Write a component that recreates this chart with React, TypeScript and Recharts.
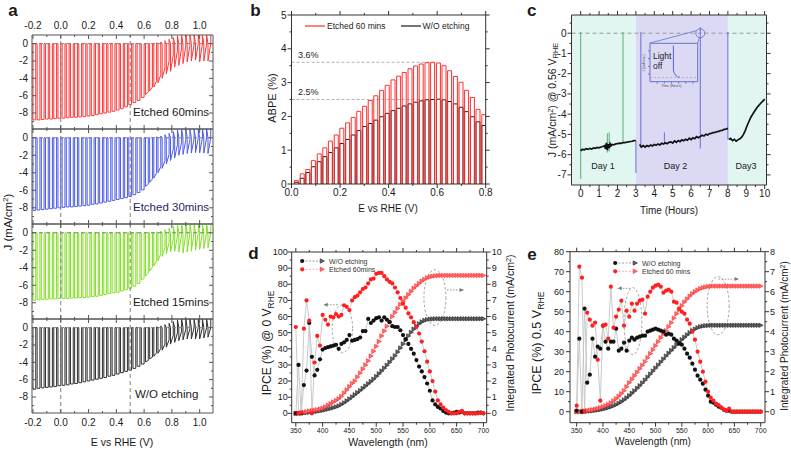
import React from 'react';
import { ComposedChart, Line, XAxis, YAxis, ReferenceLine, ReferenceArea, ReferenceDot, Legend } from 'recharts';

const W = 791;
const H = 451;
const FONT = '"Liberation Sans", Arial, Helvetica, sans-serif';

// ---------- a: chopped-light LSV, J (mA/cm2) vs E (V RHE) ----------
// potential where the light is switched on, one per chop
const chopE = [-0.2, -0.17, -0.14, -0.11, -0.08, -0.05, -0.02, 0.01, 0.04, 0.07, 0.1, 0.13, 0.16, 0.19, 0.22, 0.25, 0.28, 0.31, 0.34, 0.37, 0.4, 0.43, 0.46, 0.49, 0.52, 0.55, 0.58, 0.61, 0.64, 0.67, 0.7, 0.73, 0.76, 0.79, 0.82, 0.85, 0.88, 0.91, 0.94, 0.97, 1.0, 1.03, 1.06];
// photocurrent right after light-on (tip) and just before light-off (end)
const tip60 = [-8.8, -8.8, -8.75, -8.7, -8.7, -8.65, -8.6, -8.6, -8.55, -8.5, -8.5, -8.45, -8.4, -8.35, -8.3, -8.2, -8.1, -8.0, -7.9, -7.8, -7.65, -7.5, -7.3, -7.05, -6.8, -6.55, -6.2, -5.85, -5.45, -5.0, -4.5, -4.0, -3.5, -3.2, -2.7, -2.5, -2.3, -2.1, -2.0, -1.9, -2.1, -2.0, -2.0];
const end60 = [-8.8, -8.8, -8.75, -8.7, -8.7, -8.65, -8.6, -8.6, -8.55, -8.5, -8.5, -8.45, -8.4, -8.35, -8.3, -8.2, -8.1, -8.0, -7.9, -7.8, -7.65, -7.5, -7.3, -7.05, -6.8, -6.55, -6.2, -5.6, -5.0, -4.3, -3.6, -2.8, -2.0, -1.3, -0.8, -0.5, -0.3, -0.2, -0.1, 0, 0, 0, 0];
const tip30 = [-8.3, -8.25, -8.2, -8.15, -8.1, -8.05, -8.0, -7.95, -7.9, -7.9, -7.85, -7.8, -7.75, -7.7, -7.6, -7.55, -7.45, -7.35, -7.25, -7.15, -7.05, -6.95, -6.85, -6.7, -6.5, -6.25, -5.95, -5.55, -5.1, -4.6, -4.0, -3.5, -3.0, -2.6, -2.3, -2.0, -1.9, -1.8, -1.75, -1.7, -1.7, -1.75, -1.8];
const end30 = [-8.3, -8.25, -8.2, -8.15, -8.1, -8.05, -8.0, -7.95, -7.9, -7.9, -7.85, -7.8, -7.75, -7.7, -7.6, -7.55, -7.45, -7.35, -7.25, -7.15, -7.05, -6.95, -6.85, -6.7, -6.5, -6.25, -5.95, -5.3, -4.7, -4.0, -3.3, -2.6, -1.9, -1.3, -0.8, -0.5, -0.3, -0.2, -0.1, 0, 0, 0, 0];
const tip15 = [-7.7, -7.65, -7.6, -7.6, -7.55, -7.55, -7.5, -7.5, -7.5, -7.45, -7.45, -7.4, -7.4, -7.35, -7.3, -7.25, -7.15, -7.05, -6.95, -6.85, -6.8, -6.65, -6.5, -6.35, -6.1, -5.8, -5.4, -4.95, -4.4, -3.8, -3.2, -2.7, -2.4, -2.2, -2.1, -2.2, -2.3, -2.2, -2.1, -2.0, -1.9, -1.8, -1.7];
const end15 = [-7.7, -7.65, -7.6, -7.6, -7.55, -7.55, -7.5, -7.5, -7.5, -7.45, -7.45, -7.4, -7.4, -7.35, -7.3, -7.25, -7.15, -7.05, -6.95, -6.85, -6.8, -6.65, -6.5, -6.35, -6.1, -5.8, -5.2, -4.6, -3.9, -3.2, -2.4, -1.7, -1.1, -0.7, -0.4, -0.2, -0.1, 0, 0, 0, 0, 0, 0];
const tipWO = [-7.1, -7.0, -6.95, -6.9, -6.85, -6.8, -6.7, -6.65, -6.6, -6.5, -6.45, -6.35, -6.25, -6.15, -6.05, -5.95, -5.85, -5.75, -5.6, -5.5, -5.35, -5.2, -5.05, -4.9, -4.7, -4.45, -4.2, -3.95, -3.6, -3.3, -2.95, -2.6, -2.25, -1.9, -1.7, -1.5, -1.4, -1.3, -1.3, -1.3, -1.3, -1.2, -1.1];
const endWO = [-7.1, -7.0, -6.95, -6.9, -6.85, -6.8, -6.7, -6.65, -6.6, -6.5, -6.45, -6.35, -6.25, -6.15, -6.05, -5.95, -5.85, -5.75, -5.6, -5.5, -5.35, -5.2, -5.05, -4.9, -4.7, -4.45, -4.2, -3.8, -3.4, -2.9, -2.4, -1.9, -1.4, -0.9, -0.6, -0.4, -0.2, -0.1, 0, 0, 0, 0, 0];
// anodic overshoot when the light goes off
const offSpike = [0, 0, 0, 0, 0, 0, 0, 0, 0, 0, 0, 0, 0, 0, 0, 0, 0, 0, 0, 0, 0, 0, 0, 0, 0, 0, 0, 0, 0, 0.1, 0.2, 0.35, 0.5, 0.7, 0.9, 1, 1, 1, 1, 1, 1, 1, 1];
const aLabels = ['Etched 60mins', 'Etched 30mins', 'Etched 15mins', 'W/O etching'];
const aGuides = [0, 0.5];
const aXTicks = [-0.2, -0.1, 0, 0.1, 0.2, 0.3, 0.4, 0.5, 0.6, 0.7, 0.8, 0.9, 1.0];
const aXMajor = [-0.2, 0, 0.2, 0.4, 0.6, 0.8, 1.0];
const aYTicks = [0, -1, -2, -3, -4, -5, -6, -7, -8, -9];
const aYMajor = [0, -2, -4, -6, -8];
const CHOP_ON = 0.02;

// ---------- b: ABPE (%) under chopped light ----------
const bStart = [0.012, 0.036, 0.059, 0.082, 0.106, 0.129, 0.152, 0.176, 0.199, 0.223, 0.246, 0.269, 0.293, 0.316, 0.339, 0.363, 0.386, 0.41, 0.433, 0.456, 0.48, 0.503, 0.526, 0.55, 0.573, 0.597, 0.62, 0.643, 0.667, 0.69, 0.713, 0.737, 0.76, 0.784];
const abpeEtched = [0.1, 0.3, 0.43, 0.69, 0.89, 1.07, 1.27, 1.45, 1.65, 1.81, 1.97, 2.15, 2.3, 2.47, 2.61, 2.77, 2.92, 3.08, 3.19, 3.3, 3.41, 3.49, 3.55, 3.59, 3.6, 3.58, 3.5, 3.35, 3.18, 3.01, 2.77, 2.56, 2.21, 2.05];
const abpeWO = [0.05, 0.17, 0.34, 0.51, 0.66, 0.81, 0.93, 1.07, 1.2, 1.32, 1.45, 1.58, 1.7, 1.79, 1.89, 1.99, 2.09, 2.17, 2.24, 2.31, 2.37, 2.42, 2.46, 2.49, 2.5, 2.51, 2.49, 2.44, 2.37, 2.27, 2.14, 1.99, 1.84, 1.73];
const bLegendOrder = ['Etched 60 mins', 'W/O etching'];
const bMarks = [3.6, 2.5];
const bMarkEnd = [0.585, 0.6];
const bXTicks = [0, 0.1, 0.2, 0.3, 0.4, 0.5, 0.6, 0.7, 0.8];
const bXMajor = [0, 0.2, 0.4, 0.6, 0.8];
const bYTicks = [0, 0.5, 1, 1.5, 2, 2.5, 3, 3.5, 4, 4.5, 5];
const bYMajor = [0, 1, 2, 3, 4, 5];
const PULSE_ON = 0.0165;

// ---------- c: stability, J @ 0.56 V RHE vs time (h) ----------
const cTime = [0, 0.05, 0.1, 0.2, 0.3, 0.4, 0.5, 0.6, 0.7, 0.8, 0.9, 1.0, 1.1, 1.2, 1.3, 1.35, 1.4, 1.45, 1.5, 1.55, 1.6, 1.65, 1.7, 1.8, 1.9, 2.0, 2.1, 2.2, 2.3, 2.4, 2.5, 2.6, 2.7, 2.8, 2.9, 3.0,
  3.1,
  3.2, 3.3, 3.4, 3.5, 3.6, 3.7, 3.8, 3.9, 4.0, 4.1, 4.2, 4.3, 4.4, 4.5, 4.6, 4.7, 4.8, 4.9, 5.0, 5.1, 5.2, 5.3, 5.4, 5.5, 5.6, 5.7, 5.8, 5.9, 6.0, 6.1, 6.2, 6.3, 6.4, 6.5, 6.6, 6.7, 6.8, 6.9, 7.0, 7.1, 7.2, 7.3, 7.4, 7.5, 7.6, 7.7, 7.8, 7.9, 8.0,
  8.02,
  8.05, 8.15, 8.25, 8.35, 8.45, 8.55, 8.65, 8.75, 8.85, 8.95, 9.05, 9.15, 9.25, 9.35, 9.45, 9.55, 9.65, 9.75, 9.85, 9.95, 10.0];
const cJ = [-5.82, -5.76, -5.74, -5.76, -5.71, -5.74, -5.69, -5.72, -5.67, -5.69, -5.64, -5.66, -5.62, -5.6, -5.56, -5.72, -5.42, -5.78, -5.48, -5.68, -5.46, -5.56, -5.5, -5.52, -5.47, -5.46, -5.43, -5.44, -5.4, -5.41, -5.38, -5.37, -5.35, -5.34, -5.31, -5.3,
  null,
  -5.5, -5.62, -5.55, -5.63, -5.55, -5.6, -5.52, -5.57, -5.5, -5.54, -5.47, -5.52, -5.44, -5.48, -5.41, -5.46, -5.39, -5.37, -5.43, -5.32, -5.39, -5.3, -5.36, -5.27, -5.31, -5.24, -5.29, -5.19, -5.26, -5.17, -5.21, -5.11, -5.16, -5.1, -5.04, -5.08, -4.99, -5.03, -4.96, -4.95, -4.91, -4.9, -4.87, -4.85, -4.81, -4.8, -4.75, -4.74, -4.7,
  null,
  -5.25, -5.2, -5.31, -5.24, -5.33, -5.27, -5.22, -5.14, -5.0, -4.8, -4.56, -4.35, -4.15, -4.0, -3.86, -3.72, -3.6, -3.5, -3.4, -3.31, -3.25];
// light on/off transients
const spikeT = [0, 1.45, 1.55, 2.3, 3.0, 3.27, 4.55, 6.5, 8.0];
const spikeTop = [0.05, -4.95, -4.9, 0.05, -5.3, 0.05, -4.9, 0.3, 0.05];
const spikeBottom = [-7.2, -5.9, -5.85, -5.45, -6.9, -5.65, -5.45, -5.7, -5.25];
const cDayBounds = [-0.5, 3, 8, 10.1];
const cDayNames = ['Day 1', 'Day 2', 'Day3'];
const cXTicks = [0, 0.5, 1, 1.5, 2, 2.5, 3, 3.5, 4, 4.5, 5, 5.5, 6, 6.5, 7, 7.5, 8, 8.5, 9, 9.5, 10];
const cXMajor = [0, 1, 2, 3, 4, 5, 6, 7, 8, 9, 10];
const cYTicks = [0.5, 0, -0.5, -1, -1.5, -2, -2.5, -3, -3.5, -4, -4.5, -5, -5.5, -6, -6.5, -7];
const cYMajor = [0, -1, -2, -3, -4, -5, -6, -7];
// zoomed light-off event (inset)
const insetT = [0.49, 0.49, 0.51, 0.55, 0.58, 0.62];
const insetJ = [0.94, 0.3, 0.22, 0.15, 0.12, 0.12];

// ---------- d, e: IPCE (%) and integrated photocurrent (mA/cm2) ----------
const wl = [350, 355, 360, 365, 370, 375, 380, 385, 390, 395, 400, 405, 410, 415, 420, 425, 430, 435, 440, 445, 450, 455, 460, 465, 470, 475, 480, 485, 490, 495, 500, 505, 510, 515, 520, 525, 530, 535, 540, 545, 550, 555, 560, 565, 570, 575, 580, 585, 590, 595, 600, 605, 610, 615, 620, 625, 630, 635, 640, 645, 650, 655, 660, 665, 670, 675, 680, 685, 690, 695, 700];
const ipce0WO = [0, 30, 0, 17.5, 26.5, 56, 35, 23.5, 27, 33.5, 39.5, 40.5, 41, 41.5, 42, 42.5, 40, 43, 44, 45.5, 48.5, 45, 45.5, 46, 47, 51, 51, 58.5, 56, 57.5, 59, 59.5, 57.5, 59.5, 58, 56.5, 54, 53.5, 53.5, 51.5, 48.5, 46, 43, 40, 37, 33, 29, 26, 22.5, 18.5, 14, 8, 5.5, 4, 3, 1.5, 0.5, 0, 0, 0.5, 1, 0.5, 1, 0, 0, 0, 0, 0, 0.5, 0.5, 0];
const ipce0Et = [53.5, 0, 0.5, 52.5, 70, 57.5, 0, 31.5, 48, 42, 61, 58, 55, 60, 59.5, 61.5, 60, 61, 67, 66, 64, 70, 72, 73, 75, 77, 78, 80.5, 83, 83.5, 86.5, 87, 87, 85, 83, 81.5, 80.5, 78, 75, 71.5, 68, 65.5, 62, 59.5, 56.5, 53.5, 49.5, 44.5, 38.5, 32, 26, 20, 13.5, 8, 5.5, 3.5, 2, 1, 0, 0, 0, 1, 1.5, 0, 0, 0, 0, 0, 0, 0.5, 0];
const int0WO = [0, 0, 0, 0.02, 0.04, 0.06, 0.08, 0.1, 0.12, 0.15, 0.18, 0.22, 0.26, 0.3, 0.35, 0.4, 0.46, 0.55, 0.65, 0.77, 0.89, 1.02, 1.15, 1.28, 1.41, 1.55, 1.69, 1.83, 1.97, 2.12, 2.28, 2.45, 2.62, 2.8, 2.98, 3.17, 3.37, 3.57, 3.8, 4.05, 4.3, 4.55, 4.8, 5.02, 5.22, 5.4, 5.55, 5.67, 5.76, 5.81, 5.84, 5.85, 5.86, 5.86, 5.86, 5.86, 5.86, 5.86, 5.86, 5.86, 5.86, 5.86, 5.86, 5.86, 5.86, 5.86, 5.86, 5.86, 5.86, 5.86, 5.86];
const int0Et = [0, 0, 0.02, 0.05, 0.1, 0.15, 0.17, 0.2, 0.23, 0.27, 0.32, 0.4, 0.5, 0.6, 0.7, 0.8, 0.9, 1.05, 1.25, 1.45, 1.65, 1.85, 2.0, 2.25, 2.5, 2.75, 3.0, 3.25, 3.55, 3.85, 4.15, 4.45, 4.8, 5.1, 5.4, 5.7, 6.0, 6.25, 6.5, 6.75, 6.95, 7.15, 7.35, 7.55, 7.75, 7.9, 8.05, 8.2, 8.3, 8.4, 8.45, 8.5, 8.52, 8.54, 8.55, 8.55, 8.55, 8.55, 8.55, 8.55, 8.55, 8.55, 8.55, 8.55, 8.55, 8.55, 8.55, 8.55, 8.55, 8.55, 8.55];
const ipce05WO = [0.5, 36.5, 0, 51.5, 14.5, 18.5, 36.5, 27.5, 32.5, 31.5, 43, 35, 31.5, 35, 35, 41.5, 30.5, 31.5, 34.5, 30.5, 35.5, 37, 36, 37, 37.5, 38, 38, 40, 40.5, 41, 41.5, 41, 40.5, 40, 38.5, 39, 38.5, 36.5, 35.5, 34, 33.5, 31.5, 29, 27, 24, 21, 18, 16, 14, 11, 8, 5, 4.5, 3.5, 2.5, 2, 1, 0.5, 0.5, 0, 0, 0, 0, 0, 0, 0, 0, 0, 0, 0, 0];
const ipce05Et = [3, 72.5, 67, 0, 49.5, 46, 43, 44.5, 26, 5.5, 43, 43.5, 36.5, 62.5, 42, 47.5, 51, 55.5, 43, 50.5, 47.5, 54, 50.5, 54, 55.5, 56, 49, 57.5, 60, 62, 63, 63.5, 62.5, 59.5, 60.5, 61, 60, 55, 54.5, 51.5, 50, 49, 46, 44, 40, 36, 30, 25, 20, 15, 10, 7, 5.5, 4, 3.3, 2, 1, 0.5, 1.5, 0, 0, 0, 0, 0, 0, 0, 0, 0, 0, 0, 0];
const int05WO = [0, 0, 0, 0.01, 0.02, 0.03, 0.04, 0.06, 0.08, 0.1, 0.13, 0.16, 0.2, 0.24, 0.29, 0.35, 0.42, 0.5, 0.59, 0.69, 0.8, 0.92, 1.04, 1.17, 1.3, 1.44, 1.58, 1.73, 1.88, 2.03, 2.18, 2.33, 2.48, 2.63, 2.78, 2.92, 3.06, 3.2, 3.34, 3.47, 3.6, 3.72, 3.84, 3.95, 4.05, 4.13, 4.2, 4.25, 4.28, 4.3, 4.31, 4.32, 4.32, 4.32, 4.32, 4.32, 4.32, 4.32, 4.32, 4.32, 4.32, 4.32, 4.32, 4.32, 4.32, 4.32, 4.32, 4.32, 4.32, 4.32, 4.32];
const int05Et = [0, 0, 0.02, 0.04, 0.06, 0.08, 0.1, 0.13, 0.16, 0.2, 0.25, 0.3, 0.36, 0.44, 0.54, 0.65, 0.77, 0.9, 1.05, 1.25, 1.45, 1.62, 1.8, 1.97, 2.15, 2.32, 2.5, 2.7, 2.9, 3.1, 3.3, 3.5, 3.7, 3.88, 4.05, 4.25, 4.45, 4.68, 4.9, 5.1, 5.3, 5.48, 5.64, 5.78, 5.9, 6.0, 6.08, 6.15, 6.2, 6.23, 6.26, 6.27, 6.28, 6.28, 6.28, 6.28, 6.28, 6.28, 6.28, 6.28, 6.28, 6.28, 6.28, 6.28, 6.28, 6.28, 6.28, 6.28, 6.28, 6.28, 6.28];
const legendD = ['W/O etching', 'Etched 60mins'];
const legendE = ['W/O etching', 'Etched 60 mins'];
const wlTicks = [350, 375, 400, 425, 450, 475, 500, 525, 550, 575, 600, 625, 650, 675, 700];
const wlMajor = [350, 400, 450, 500, 550, 600, 650, 700];
const dYTicks = [0, 5, 10, 15, 20, 25, 30, 35, 40, 45, 50, 55, 60, 65, 70, 75, 80, 85, 90, 95, 100];
const dYMajor = [0, 10, 20, 30, 40, 50, 60, 70, 80, 90, 100];
const dY2Ticks = [0, 0.5, 1, 1.5, 2, 2.5, 3, 3.5, 4, 4.5, 5, 5.5, 6, 6.5, 7, 7.5, 8, 8.5, 9, 9.5, 10];
const dY2Major = [0, 1, 2, 3, 4, 5, 6, 7, 8, 9, 10];
const eYTicks = [0, 5, 10, 15, 20, 25, 30, 35, 40, 45, 50, 55, 60, 65, 70, 75, 80];
const eYMajor = [0, 10, 20, 30, 40, 50, 60, 70, 80];
const eY2Ticks = [0, 0.5, 1, 1.5, 2, 2.5, 3, 3.5, 4, 4.5, 5, 5.5, 6, 6.5, 7, 7.5, 8];
const eY2Major = [0, 1, 2, 3, 4, 5, 6, 7, 8];

// ---------- helpers ----------
type Rect = { x0: number; y0: number; x1: number; y1: number };
type Fmt = (v: number) => string;
type Side = 'left' | 'right' | 'top' | 'bottom';

const marginFor = (r: Rect) => ({ left: r.x0 - 1, top: r.y0 - 1, right: W - r.x1 - 1, bottom: H - r.y1 - 1 });

function chopTrace(e: number[], tip: number[], end: number[], off: number[]) {
  const pts: { x: number; y: number }[] = [];
  e.forEach((x, i) => {
    pts.push({ x, y: 0 }, { x, y: tip[i] }, { x: x + CHOP_ON, y: end[i] }, { x: x + CHOP_ON, y: off[i] });
  });
  return pts;
}

function pulseTrace(start: number[], h: number[]) {
  const pts: { x: number; y: number }[] = [];
  start.forEach((s, i) => {
    pts.push({ x: s, y: 0 }, { x: s, y: h[i] }, { x: s + PULSE_ON, y: h[i] }, { x: s + PULSE_ON, y: 0 });
  });
  return pts;
}

function mkTick(side: Side, o: { majors: number[]; inward: boolean; labels: boolean; fmt: Fmt; fs: number; gap: number; color: string }) {
  return (p: any) => {
    const x = Number(p.x);
    const y = Number(p.y);
    const v = Number(p.payload?.value);
    const major = o.majors.some((m) => Math.abs(m - v) < 1e-6);
    const len = (major ? 4 : 2) * (o.inward ? -1 : 1);
    let x2 = x, y2 = y, tx = x, ty = y;
    let anchor: 'start' | 'middle' | 'end' = 'middle';
    if (side === 'left') { x2 = x - len; tx = x - o.gap; anchor = 'end'; }
    else if (side === 'right') { x2 = x + len; tx = x + o.gap; anchor = 'start'; }
    else if (side === 'bottom') { y2 = y + len; ty = y + o.gap + o.fs * 0.5; }
    else { y2 = y - len; ty = y - o.gap - o.fs * 0.5; }
    return (
      <g>
        <line x1={x} y1={y} x2={x2} y2={y2} stroke={o.color} strokeWidth={1} />
        {o.labels && major ? (
          <text x={tx} y={ty} textAnchor={anchor} dominantBaseline="central" fontSize={o.fs} fill="#1a1a1a">{o.fmt(v)}</text>
        ) : null}
      </g>
    );
  };
}

interface FrameCfg {
  xd: [number, number]; yd: [number, number]; y2d?: [number, number];
  xt: number[]; xm: number[]; yt: number[]; ym: number[]; y2t?: number[]; y2m?: number[];
  inward: boolean;
  lab: { b?: boolean; t?: boolean; l?: boolean; r?: boolean };
  bare?: { t?: boolean; r?: boolean };
  xf?: Fmt; yf?: Fmt;
  xfs?: number; yfs?: number;
  gb?: number; gt?: number; gl?: number; gr?: number;
  col?: string;
}

function frameAxes(c: FrameCfg) {
  const col = c.col ?? '#333';
  const xf = c.xf ?? ((v: number) => String(v));
  const yf = c.yf ?? ((v: number) => String(v));
  const xfs = c.xfs ?? 10;
  const yfs = c.yfs ?? 10;
  const bare = c.bare ?? {};
  const common = { tickSize: 0, tickMargin: 0, tickLine: false, interval: 0 as const, allowDataOverflow: true, axisLine: { stroke: col, strokeWidth: 1 } };
  return [
    <XAxis key="xb" xAxisId="b" orientation="bottom" type="number" dataKey="x" domain={c.xd} ticks={c.xt} height={1} {...common}
      tick={mkTick('bottom', { majors: c.xm, inward: c.inward, labels: !!c.lab.b, fmt: xf, fs: xfs, gap: c.gb ?? 4, color: col })} />,
    <XAxis key="xt" xAxisId="t" orientation="top" type="number" dataKey="x" domain={c.xd} ticks={c.xt} height={1} {...common}
      tick={bare.t ? false : mkTick('top', { majors: c.xm, inward: c.inward, labels: !!c.lab.t, fmt: xf, fs: xfs, gap: c.gt ?? 4, color: col })} />,
    <YAxis key="yl" yAxisId="l" orientation="left" type="number" domain={c.yd} ticks={c.yt} width={1} {...common}
      tick={mkTick('left', { majors: c.ym, inward: c.inward, labels: !!c.lab.l, fmt: yf, fs: yfs, gap: c.gl ?? 4, color: col })} />,
    <YAxis key="yr" yAxisId="r" orientation="right" type="number" domain={c.y2d ?? c.yd} ticks={c.y2t ?? c.yt} width={1} {...common}
      tick={bare.r ? false : mkTick('right', { majors: c.y2m ?? c.ym, inward: c.inward, labels: !!c.lab.r, fmt: yf, fs: yfs, gap: c.gr ?? 4, color: col })} />,
  ];
}

const Box = ({ children }: { children: React.ReactNode }) => (
  <div style={{ position: 'absolute', left: 0, top: 0, width: W, height: H }}>{children}</div>
);

function Txt({ x, y, size = 11, rot = false, align = 'center', bold = false, color = '#1a1a1a', children }: any) {
  const tx = align === 'left' ? '0%' : align === 'right' ? '-100%' : '-50%';
  return (
    <div style={{ position: 'absolute', left: x, top: y, fontSize: size, fontWeight: bold ? 700 : 400, color, lineHeight: 1, whiteSpace: 'nowrap', transform: `translate(${tx}, -50%)${rot ? ' rotate(-90deg)' : ''}` }}>
      {children}
    </div>
  );
}
const Sub = ({ children }: any) => <span style={{ fontSize: '0.7em', position: 'relative', top: '0.3em' }}>{children}</span>;
const Sup = ({ children }: any) => <span style={{ fontSize: '0.7em', position: 'relative', top: '-0.45em' }}>{children}</span>;

// ---------- panels ----------
function PanelA() {
  const rects: Rect[] = [
    { x0: 32, y0: 35, x1: 213, y1: 129 },
    { x0: 32, y0: 129, x1: 213, y1: 224 },
    { x0: 32, y0: 224, x1: 213, y1: 319 },
    { x0: 32, y0: 319, x1: 213, y1: 413 },
  ];
  const series = [
    { tip: tip60, end: end60, color: '#ff3636' },
    { tip: tip30, end: end30, color: '#4c5be6' },
    { tip: tip15, end: end15, color: '#80df22' },
    { tip: tipWO, end: endWO, color: '#303030' },
  ];
  return (
    <>
      {series.map((s, k) => (
        <Box key={k}>
          <ComposedChart width={W} height={H} margin={marginFor(rects[k])}>
            {frameAxes({
              xd: [-0.207, 1.096], yd: [-9.85, 1.0], xt: aXTicks, xm: aXMajor, yt: aYTicks, ym: aYMajor,
              inward: true, lab: { t: k === 0, b: k === 3, l: true }, xf: (v) => v.toFixed(1), gt: 5, gb: 4, gl: 4, col: '#555',
            })}
            <Line xAxisId="b" yAxisId="l" data={chopTrace(chopE, s.tip, s.end, offSpike)} dataKey="y" stroke={s.color} strokeWidth={1} dot={false} activeDot={false} isAnimationActive={false} />
            <ReferenceLine xAxisId="b" yAxisId="l" y={0} stroke="#808080" strokeDasharray="4 3" />
            {aGuides.map((g) => (
              <ReferenceLine key={g} xAxisId="b" yAxisId="l" x={g} stroke="#808080" strokeDasharray="4 3" />
            ))}
          </ComposedChart>
        </Box>
      ))}
    </>
  );
}

const bLegend = (p: any) => {
  const payload = p.payload ?? [];
  const items = bLegendOrder.map((n) => payload.find((it: any) => it.value === n)).filter(Boolean);
  return (
    <div style={{ display: 'flex', alignItems: 'center', fontSize: 8.5, color: '#222', fontFamily: FONT, lineHeight: 1 }}>
      {items.map((it: any, i: number) => (
        <div key={i} style={{ display: 'flex', alignItems: 'center', marginRight: i === 0 ? 15 : 0 }}>
          <svg width={20} height={8}><line x1={0} x2={20} y1={4} y2={4} stroke={it.color} strokeWidth={1.2} /></svg>
          <span style={{ marginLeft: 2 }}>{it.value}</span>
        </div>
      ))}
    </div>
  );
};

function PanelB() {
  const r: Rect = { x0: 291.5, y0: 15, x1: 485.7, y1: 184 };
  return (
    <Box>
      <ComposedChart width={W} height={H} margin={marginFor(r)}>
        {frameAxes({
          xd: [0, 0.8], yd: [0, 5], xt: bXTicks, xm: bXMajor, yt: bYTicks, ym: bYMajor,
          inward: false, lab: { b: true, l: true }, xf: (v) => v.toFixed(1), gb: 3, gl: 5,
        })}
        {bMarks.map((m, i) => (
          <ReferenceLine key={m} xAxisId="b" yAxisId="l" segment={[{ x: 0, y: m }, { x: bMarkEnd[i], y: m }]} stroke="#a0a0a0" strokeWidth={0.8} strokeDasharray="3 2" />
        ))}
        <Line xAxisId="b" yAxisId="l" name="W/O etching" data={pulseTrace(bStart, abpeWO)} dataKey="y" stroke="#1a1a1a" strokeWidth={1} dot={false} activeDot={false} isAnimationActive={false} />
        <Line xAxisId="b" yAxisId="l" name="Etched 60 mins" data={pulseTrace(bStart, abpeEtched)} dataKey="y" stroke="#ff2f2f" strokeWidth={1} dot={false} activeDot={false} isAnimationActive={false} />
        <Legend layout="horizontal" verticalAlign="middle" align="center" content={bLegend}
          wrapperStyle={{ left: 305, top: 22, width: 180, height: 10 }} />
      </ComposedChart>
    </Box>
  );
}

const C_RECT: Rect = { x0: 571.5, y0: 15, x1: 766.5, y1: 185 };
const C_XD: [number, number] = [-0.5, 10.1];
const C_YD: [number, number] = [-7.5, 0.9];

function PanelCBackground() {
  const r = C_RECT;
  return (
    <Box>
      <ComposedChart width={W} height={H} margin={{ left: r.x0, top: r.y0, right: W - r.x1, bottom: H - r.y1 }}>
        <XAxis xAxisId="b" type="number" dataKey="x" domain={C_XD} allowDataOverflow hide />
        <YAxis yAxisId="l" type="number" domain={C_YD} allowDataOverflow hide />
        {cDayBounds.slice(0, -1).map((x1, i) => (
          <ReferenceArea key={i} xAxisId="b" yAxisId="l" x1={x1} x2={cDayBounds[i + 1]} y1={C_YD[0]} y2={C_YD[1]}
            fill={i === 1 ? '#dcd9f4' : '#e1f6f1'} fillOpacity={1} stroke="none" />
        ))}
      </ComposedChart>
    </Box>
  );
}

function PanelC() {
  const rows = cTime.map((t, i) => ({ x: t, y: cJ[i] }));
  return (
    <Box>
      <ComposedChart width={W} height={H} margin={marginFor(C_RECT)}>
        {frameAxes({
          xd: C_XD, yd: C_YD, xt: cXTicks, xm: cXMajor, yt: cYTicks, ym: cYMajor,
          inward: false, lab: { b: true, l: true }, gb: 3, gl: 5,
        })}
        <ReferenceLine xAxisId="b" yAxisId="l" y={0} stroke="#9a9a9a" strokeDasharray="4 3" />
        {spikeT.map((t, i) => (
          <Line key={`s${i}`} xAxisId="b" yAxisId="l" data={[{ x: t, y: spikeTop[i] }, { x: t, y: spikeBottom[i] }]} dataKey="y"
            stroke={t < 2.95 ? '#4ea56b' : '#5a62d6'} strokeWidth={0.9} dot={false} activeDot={false} isAnimationActive={false} />
        ))}
        <Line xAxisId="b" yAxisId="l" data={rows} dataKey="y" stroke="#111" strokeWidth={1.7} dot={false} activeDot={false} isAnimationActive={false} />
        <ReferenceDot xAxisId="b" yAxisId="l" x={6.5} y={0} r={4.5} fill="none" stroke="#6a72c8" strokeWidth={0.9} />
        <ReferenceLine xAxisId="b" yAxisId="l" segment={[{ x: 6.27, y: 0.12 }, { x: 3.75, y: -0.49 }]} stroke="#6a72c8" strokeWidth={0.8} />
        <ReferenceLine xAxisId="b" yAxisId="l" segment={[{ x: 6.45, y: -0.22 }, { x: 6.36, y: -0.49 }]} stroke="#6a72c8" strokeWidth={0.8} />
      </ComposedChart>
    </Box>
  );
}

function InsetC() {
  const r: Rect = { x0: 650, y0: 43.3, x1: 697.7, y1: 81.7 };
  const rows = insetT.map((x, i) => ({ x, y: insetJ[i] }));
  return (
    <Box>
      <ComposedChart width={W} height={H} margin={marginFor(r)}>
        {frameAxes({
          xd: [0, 1], yd: [0, 1], xt: [0.15, 0.3, 0.45, 0.6, 0.75, 0.9], xm: [], yt: [0.2, 0.4, 0.6, 0.8], ym: [],
          inward: false, lab: {}, bare: { t: true, r: true }, col: '#6a72c8',
        })}
        <ReferenceLine xAxisId="b" yAxisId="l" y={0.11} stroke="#9a9a9a" strokeWidth={0.6} strokeDasharray="2 2" />
        <Line xAxisId="b" yAxisId="l" data={rows} dataKey="y" stroke="#4b55d0" strokeWidth={0.9} dot={false} activeDot={false} isAnimationActive={false} />
      </ComposedChart>
    </Box>
  );
}

const dotFn = (fill: string) => (p: any) =>
  p.cx == null || p.cy == null ? <g key={p.index} /> : <circle key={p.index} cx={p.cx} cy={p.cy} r={2.1} fill={fill} />;
const triFn = (fill: string, stroke: string) => (p: any) =>
  p.cx == null || p.cy == null ? <g key={p.index} /> : (
    <path key={p.index} d={`M${p.cx - 1.8},${p.cy - 2.2}L${p.cx + 2.4},${p.cy}L${p.cx - 1.8},${p.cy + 2.2}Z`} fill={fill} stroke={stroke} strokeWidth={0.6} />
  );
const ellipseShape = (p: any) => (
  <ellipse cx={p.x + p.width / 2} cy={p.y + p.height / 2} rx={Math.abs(p.width) / 2} ry={Math.abs(p.height) / 2}
    fill="none" stroke="#8a8a8a" strokeWidth={0.8} strokeDasharray="2.5 2" />
);
const arrowShape = (p: any) => {
  const { x1, y1, x2, y2 } = p;
  const dir = x2 > x1 ? 1 : -1;
  return (
    <g>
      <line x1={x1} y1={y1} x2={x2} y2={y2} stroke="#7a7a7a" strokeWidth={0.8} strokeDasharray="1.5 1.5" />
      <path d={`M${x2},${y2}L${x2 - dir * 4},${y2 - 2}L${x2 - dir * 4},${y2 + 2}Z`} fill="#7a7a7a" />
    </g>
  );
};
const ipceLegend = (labels: string[]) => () => (
  <svg width={110} height={18} style={{ display: 'block', fontFamily: FONT }}>
    {labels.map((lab, i) => {
      const y = 4 + i * 8.3;
      const red = i === 1;
      return (
        <g key={lab}>
          <line x1={2} x2={22} y1={y} y2={y} stroke={red ? '#f29a9a' : '#8a8a8a'} strokeWidth={0.8} strokeDasharray="2 1.5" />
          <circle cx={2.2} cy={y} r={2.1} fill={red ? '#ff1f1f' : '#111'} />
          <path d={`M${20.2},${y - 2.2}L${24.4},${y}L${20.2},${y + 2.2}Z`} fill={red ? '#ff7070' : '#666'} stroke={red ? '#ff2a2a' : '#222'} strokeWidth={0.6} />
          <text x={29} y={y} dominantBaseline="central" fontSize={7} fill="#333">{lab}</text>
        </g>
      );
    })}
  </svg>
);

function PanelIPCE(c: any) {
  const rows = wl.map((x, i) => ({ x, wo: c.wo[i], et: c.et[i], iwo: c.iwo[i], iet: c.iet[i] }));
  return (
    <Box>
      <ComposedChart width={W} height={H} margin={marginFor(c.rect)} data={rows}>
        {frameAxes({
          xd: c.xd, yd: c.yd, y2d: c.y2d, xt: wlTicks, xm: wlMajor, yt: c.yt, ym: c.ym, y2t: c.y2t, y2m: c.y2m,
          inward: false, lab: { b: true, l: true, r: true }, xfs: 7, yfs: 9, gb: 3.8, gl: c.gl, gr: 5,
        })}
        <Line xAxisId="b" yAxisId="r" dataKey="iwo" stroke="#8a8a8a" strokeWidth={0.8} dot={triFn('#666', '#222')} activeDot={false} isAnimationActive={false} />
        <Line xAxisId="b" yAxisId="r" dataKey="iet" stroke="#f4a0a0" strokeWidth={0.8} dot={triFn('#ff7070', '#ff2a2a')} activeDot={false} isAnimationActive={false} />
        <Line xAxisId="b" yAxisId="l" dataKey="wo" stroke="#c4c4c4" strokeWidth={0.9} dot={dotFn('#111')} activeDot={false} isAnimationActive={false} />
        <Line xAxisId="b" yAxisId="l" dataKey="et" stroke="#c4c4c4" strokeWidth={0.9} dot={dotFn('#ff1f1f')} activeDot={false} isAnimationActive={false} />
        {c.ellipses.map((e: number[], i: number) => (
          <ReferenceArea key={`e${i}`} xAxisId="b" yAxisId="l" x1={e[0]} x2={e[1]} y1={e[2]} y2={e[3]} shape={ellipseShape} />
        ))}
        {c.arrows.map((a: number[], i: number) => (
          <ReferenceLine key={`a${i}`} xAxisId="b" yAxisId="l" segment={[{ x: a[0], y: a[2] }, { x: a[1], y: a[2] }]} shape={arrowShape} />
        ))}
        <Legend layout="horizontal" verticalAlign="middle" align="center" content={ipceLegend(c.legend)}
          wrapperStyle={{ left: c.legendPos.left, top: c.legendPos.top, width: 110, height: 18 }} />
      </ComposedChart>
    </Box>
  );
}

export default function App() {
  return (
    <div style={{ position: 'absolute', left: 0, top: 0, width: W, height: H, background: '#fff', fontFamily: FONT, color: '#1a1a1a', overflow: 'hidden' }}>
      <PanelA />
      <PanelB />
      <PanelCBackground />
      <PanelC />
      <InsetC />
      <PanelIPCE
        rect={{ x0: 291.7, y0: 252, x1: 486.7, y1: 422.7 }} xd={[342.3, 706.1]} yd={[-5.8, 100]} y2d={[-0.58, 10]}
        yt={dYTicks} ym={dYMajor} y2t={dY2Ticks} y2m={dY2Major}
        wo={ipce0WO} et={ipce0Et} iwo={int0WO} iet={int0Et}
        ellipses={[[418, 456, 37.5, 67.3], [589, 630, 54.5, 89]]} arrows={[[428, 402, 67.3], [632, 663, 76.5]]}
        legend={legendD} legendPos={{ left: 299.5, top: 256.7 }} gl={4}
      />
      <PanelIPCE
        rect={{ x0: 570, y0: 251.7, x1: 765, y1: 422.7 }} xd={[337.3, 708.2]} yd={[-5.5, 80]} y2d={[-0.55, 8]}
        yt={eYTicks} ym={eYMajor} y2t={eY2Ticks} y2m={eY2Major}
        wo={ipce05WO} et={ipce05Et} iwo={int05WO} iet={int05Et}
        ellipses={[[440, 474, 28.5, 62], [598, 640, 38.5, 67.5]]} arrows={[[452, 428, 61.7], [620, 658, 66.3]]}
        legend={legendE} legendPos={{ left: 612.8, top: 258.7 }} gl={6}
      />

      {/* a */}
      <Txt x={13} y={9.5} size={17} bold>a</Txt>
      <Txt x={9} y={222} size={11.5} rot>J (mA/cm<Sup>2</Sup>)</Txt>
      <Txt x={122} y={442} size={10.5}>E vs RHE (V)</Txt>
      {aLabels.map((lab, i) => (
        <Txt key={lab} x={i === 3 ? 135 : 133} y={[113, 208, 303, 395][i]} size={11.5} align="left" color={i === 1 ? '#1f1f66' : '#1a1a1a'}>{lab}</Txt>
      ))}

      {/* b */}
      <Txt x={255.5} y={10} size={17} bold>b</Txt>
      <Txt x={271.7} y={97.5} size={11} rot>ABPE (%)</Txt>
      <Txt x={388} y={209} size={10}>E vs RHE (V)</Txt>
      <Txt x={298} y={55} size={9} align="left">3.6%</Txt>
      <Txt x={298} y={92.3} size={9} align="left">2.5%</Txt>

      {/* c */}
      <Txt x={531.7} y={9.5} size={17} bold>c</Txt>
      <Txt x={551.5} y={100} size={10.5} rot>J (mA/cm<Sup>2</Sup>) @ 0.56 V<Sub>RHE</Sub></Txt>
      <Txt x={669} y={211} size={10}>Time (Hours)</Txt>
      {cDayNames.map((d, i) => (
        <Txt key={d} x={[603, 675.5, 746][i]} y={165.7} size={9}>{d}</Txt>
      ))}
      <Txt x={653} y={55.8} size={8.5} align="left">Light</Txt>
      <Txt x={653} y={66.3} size={8.5} align="left">off</Txt>
      <Txt x={645.3} y={63} size={3.5} rot color="#555">J (mA/cm²)</Txt>
      <Txt x={671.3} y={87.3} size={3.5} color="#555">Time (Hours)</Txt>

      {/* d */}
      <Txt x={253.5} y={253} size={17} bold>d</Txt>
      <Txt x={267} y={343} size={12} rot>IPCE (%) @ 0 V<Sub>RHE</Sub></Txt>
      <Txt x={510} y={333} size={10.5} rot>Integrated Photocurrent (mA/cm<Sup>2</Sup>)</Txt>
      <Txt x={388} y={442} size={10.5}>Wavelength (nm)</Txt>

      {/* e */}
      <Txt x={532} y={253.5} size={17} bold>e</Txt>
      <Txt x={537} y={343} size={12.5} rot>IPCE (%) 0.5 V<Sub>RHE</Sub></Txt>
      <Txt x={785} y={336} size={10} rot>Integrated Photocurrent (mA/cm<Sup>2</Sup>)</Txt>
      <Txt x={653} y={442} size={10}>Wavelength (nm)</Txt>
    </div>
  );
}
